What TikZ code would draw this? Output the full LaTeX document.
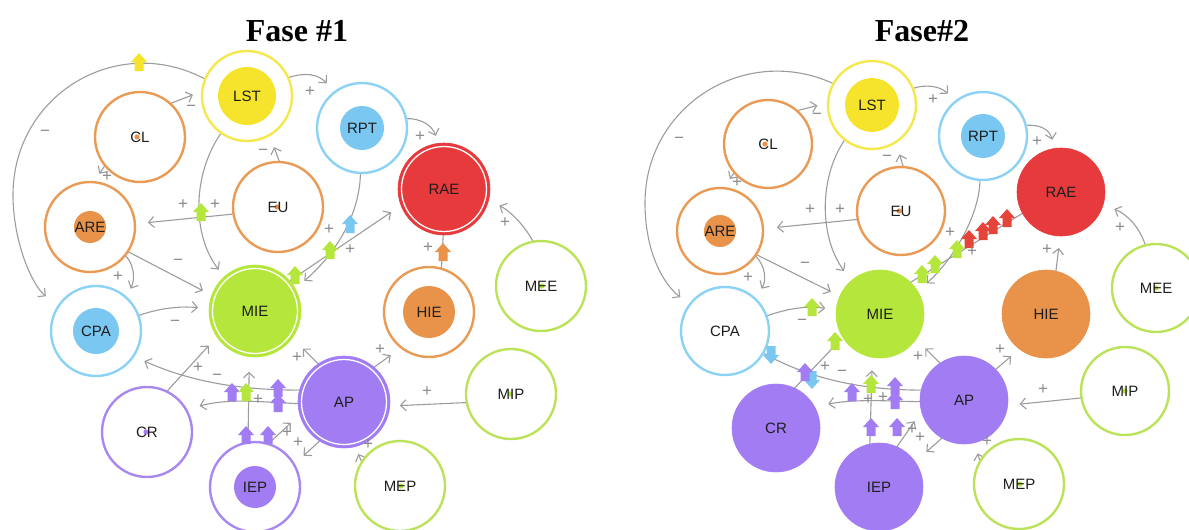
\documentclass[tikz,border=0pt]{standalone}
\usepackage{fontspec}
\setmainfont{Liberation Sans}
\newfontfamily\ttlfont{Liberation Serif}
\usetikzlibrary{arrows.meta}
\definecolor{cOr}{HTML}{E99A55}
\definecolor{fOr}{HTML}{E8924A}
\definecolor{cYe}{HTML}{F5E84E}
\definecolor{fYe}{HTML}{F6E42C}
\definecolor{cBl}{HTML}{8CD2F5}
\definecolor{fBl}{HTML}{7AC7F2}
\definecolor{fRe}{HTML}{E63A3D}
\definecolor{mRe}{HTML}{E5443A}
\definecolor{cGr}{HTML}{BBE35A}
\definecolor{fGr}{HTML}{B5E63B}
\definecolor{cPu}{HTML}{A888F0}
\definecolor{fPu}{HTML}{A17CF2}
\definecolor{lgray}{HTML}{9C9C9C}
\definecolor{sgray}{HTML}{8A8A8A}
\definecolor{txt}{HTML}{1E1E1E}
\newcommand\nlab{\fontsize{15}{15}\selectfont}
\newcommand\pmfont{\fontsize{17}{17}\selectfont}
\pgfdeclarelayer{bg}
\pgfsetlayers{bg,main}
\tikzset{
 nbase/.style={circle, inner sep=0pt, outer sep=0pt, minimum size=90pt, font=\nlab, text=txt},
 ring/.style={nbase, draw=#1, line width=2.4pt, fill=white},
 core/.style 2 args={path picture={\fill[#1] (path picture bounding box.center) circle (#2pt);}},
 dotin/.style 2 args={path picture={\fill[#1] ([xshift=#2pt]path picture bounding box.center) circle (2.6pt);}},
 disc/.style={nbase, fill=#1, draw=#1, line width=0.6pt},
 wring/.style={path picture={\draw[white, line width=1.3pt] (path picture bounding box.center) circle (42.5pt);}},
 conn/.style={draw=lgray, line width=1.1pt, -{Straight Barb[length=5.5pt,width=11pt,line width=1.1pt]}},
 lnk/.style={draw=lgray, line width=1.1pt},
 pm/.style={font=\pmfont, text=sgray, inner sep=0pt},
 ttl/.style={font=\ttlfont\bfseries\fontsize{32}{32}\selectfont, text=black, inner sep=0pt},
 mk/.pic={\fill[pic actions] (-4.5,9) -- (4.5,9) -- (4.5,0) -- (8,0) -- (0,-9) -- (-8,0) -- (-4.5,0) -- cycle;},
}
\begin{document}
\begin{tikzpicture}[x=1pt,y=-1pt]
\useasboundingbox (0,0) rectangle (1189,530);
% titles
\node[ttl] (t1) at (297,31) {Fase \#1};
\node[ttl] (t2) at (922,31) {Fase\#2};
% ---------- left nodes ----------
\node[ring=cYe, core={fYe}{29}] (aLST) at (247,96) {LST};
\node[ring=cOr, dotin={fOr}{-3}] (aCL) at (140,137) {CL};
\node[ring=cOr, core={fOr}{16}] (aARE) at (90,227) {ARE};
\node[ring=cOr, dotin={fOr}{-1}] (aEU) at (278,207) {EU};
\node[ring=cBl, core={fBl}{22}] (aRPT) at (362,128) {RPT};
\node[disc=fRe, wring, minimum size=92pt] (aRAE) at (444,189) {RAE};
\node[ring=cGr, dotin={fGr}{1}] (aMEE) at (541,286) {MEE};
\node[disc=fGr, wring, minimum size=92pt] (aMIE) at (255,311) {MIE};
\node[ring=cOr, core={fOr}{26}] (aHIE) at (429,312) {HIE};
\node[ring=cBl, core={fBl}{23}] (aCPA) at (96,331) {CPA};
\node[ring=cPu, dotin={fPu}{-1}] (aCR) at (147,432) {CR};
\node[disc=fPu, wring, minimum size=92pt] (aAP) at (344,402) {AP};
\node[ring=cPu, core={fPu}{21}] (aIEP) at (255,487) {IEP};
\node[ring=cGr, dotin={fGr}{-1}] (aMIP) at (511,394) {MIP};
\node[ring=cGr, dotin={fGr}{1}] (aMEP) at (400,486) {MEP};
% ---------- right nodes ----------
\node[ring=cYe, core={fYe}{27}, minimum size=88pt] (bLST) at (872,105) {LST};
\node[ring=cOr, dotin={fOr}{-3}, minimum size=88pt] (bCL) at (768,144) {CL};
\node[ring=cOr, core={fOr}{16}, minimum size=86pt] (bARE) at (720,231) {ARE};
\node[ring=cOr, dotin={fOr}{-2}, minimum size=88pt] (bEU) at (901,211) {EU};
\node[ring=cBl, core={fBl}{22}, minimum size=88pt] (bRPT) at (983,136) {RPT};
\node[disc=fRe, minimum size=88pt] (bRAE) at (1061,192) {RAE};
\node[ring=cGr, dotin={fGr}{0}, minimum size=88pt] (bMEE) at (1156,288) {MEE};
\node[disc=fGr, minimum size=88pt] (bMIE) at (880,314) {MIE};
\node[disc=fOr, minimum size=88pt] (bHIE) at (1046,314) {HIE};
\node[ring=cBl, minimum size=88pt] (bCPA) at (725,331) {CPA};
\node[disc=fPu, minimum size=88pt] (bCR) at (776,428) {CR};
\node[disc=fPu, minimum size=88pt] (bAP) at (964,400) {AP};
\node[disc=fPu, minimum size=88pt] (bIEP) at (879,487) {IEP};
\node[ring=cGr, dotin={fGr}{0}, minimum size=88pt] (bMIP) at (1125,391) {MIP};
\node[ring=cGr, dotin={fGr}{1}] (bMEP) at (1019,484) {MEP};
% ---------- connectors ----------
\begin{pgfonlayer}{bg}
% left
\draw[conn, shorten >=16pt] (aLST.158) .. controls (117,32) and (13,95) .. (13,195) .. controls (13,240) and (31,284) .. (aCPA.147);
\draw[conn, shorten >=10pt] (aCL.48) -- (aLST.174);
\draw[conn, shorten >=10pt] (aCL.219) -- (aARE.85);
\draw[conn, shorten >=9pt] (aLST.235) .. controls (192,175) and (192,235) .. (aMIE.132);
\draw[conn, shorten >=13pt] (aEU.189) -- (aARE.4);
\draw[conn, shorten >=13pt] (aEU.88) -- (aLST.300);
\draw[conn, shorten >=12pt] (aLST.24) .. controls (305,72) and (318,74) .. (aRPT.127);
\draw[conn, shorten >=8pt] (aRPT.12) .. controls (420,118) and (432,125) .. (aRAE.97);
\draw[conn, shorten >=12pt] (aRPT.268) .. controls (360,210) and (340,250) .. (aMIE.29);
\draw[conn, shorten >=12pt] (aMIE.41) -- (aRAE.201);
\draw[lnk] (aHIE.74) -- (aRAE.269);
\draw[conn, shorten >=12pt] (aMEE.100) .. controls (526,228) and (512,212) .. (aRAE.346);
\draw[conn, shorten >=10pt] (aARE.321) .. controls (133,262) and (136,278) .. (aCPA.48);
\draw[conn, shorten >=10pt] (aARE.327) -- (aMIE.160);
\draw[conn, shorten >=11pt] (aCPA.20) .. controls (160,308) and (180,306) .. (aMIE.177);
\draw[conn, shorten >=12pt] (aCR.64) -- (aMIE.214);
\draw[conn, shorten >=12pt] (aAP.165) .. controls (255,390) and (200,386) .. (aCPA.326);
\draw[conn, shorten >=14pt] (aAP.182) .. controls (260,402) and (230,398) .. (aCR.30);
\draw[conn, shorten >=15pt] (aIEP.99) -- (aMIE.263);
\draw[conn, shorten >=12pt] (aIEP.73) -- (aAP.196);
\draw[conn, shorten >=13pt] (aAP.238) -- (aIEP.30);
\draw[conn, shorten >=15pt] (aAP.124) -- (aMIE.324);
\draw[conn, shorten >=13pt] (aAP.49) -- (aHIE.232);
\draw[conn, shorten >=10pt] (aMIP.191) -- (aAP.355);
\draw[conn, shorten >=8pt] (aMEP.148) -- (aAP.284);
% right
\draw[conn, shorten >=12pt] (bLST.151) .. controls (745,43) and (645,106) .. (645,203) .. controls (645,250) and (662,283) .. (bCPA.143);
\draw[conn, shorten >=11pt] (bCL.49) -- (bLST.177);
\draw[conn, shorten >=11pt] (bCL.220) -- (bARE.85);
\draw[conn, shorten >=12pt] (bLST.232) .. controls (820,175) and (818,235) .. (bMIE.131);
\draw[conn, shorten >=14pt] (bEU.191) -- (bARE.3);
\draw[conn, shorten >=13pt] (bEU.87) -- (bLST.303);
\draw[conn, shorten >=11pt] (bLST.22) .. controls (925,84) and (940,86) .. (bRPT.128);
\draw[conn, shorten >=9pt] (bRPT.14) .. controls (1040,124) and (1050,130) .. (bRAE.99);
\draw[conn, shorten >=12pt] (bRPT.266) .. controls (980,210) and (958,255) .. (bMIE.31);
\draw[lnk] (bMIE.46) -- (bRAE.209);
\draw[conn, shorten >=12pt] (bHIE.77) -- (bRAE.269);
\draw[conn, shorten >=12pt] (bMEE.104) .. controls (1140,228) and (1128,215) .. (bRAE.344);
\draw[conn, shorten >=12pt] (bARE.325) .. controls (765,265) and (767,280) .. (bCPA.47);
\draw[conn, shorten >=10pt] (bARE.327) -- (bMIE.156);
\draw[conn, shorten >=11pt] (bCPA.20) .. controls (790,308) and (805,306) .. (bMIE.174);
\draw[lnk, shorten >=6pt] (bCR.65) -- (bMIE.212);
\draw[lnk] (bAP.167) .. controls (880,390) and (820,385) .. (bCPA.330);
\draw[conn, shorten >=14pt] (bAP.182) .. controls (900,402) and (860,398) .. (bCR.29);
\draw[conn, shorten >=13pt] (bIEP.102) -- (bMIE.260);
\draw[conn, shorten >=12pt] (bIEP.66) -- (bAP.195);
\draw[conn, shorten >=15pt] (bAP.240) -- (bIEP.35);
\draw[conn, shorten >=13pt] (bAP.123) -- (bMIE.325);
\draw[conn, shorten >=11pt] (bAP.44) -- (bHIE.233);
\draw[conn, shorten >=12pt] (bMIP.189) -- (bAP.353);
\draw[conn, shorten >=11pt] (bMEP.150) -- (bAP.284);
\end{pgfonlayer}
% ---------- markers left ----------
\pic[fill=fYe] at (139,62) {mk};
\pic[fill=fGr] at (201,212) {mk};
\pic[fill=fBl] at (350,224) {mk};
\pic[fill=fGr] at (330,250) {mk};
\pic[fill=fGr] at (295,275) {mk};
\pic[fill=fOr] at (443,252) {mk};
\pic[fill=fPu] at (232,392) {mk};
\pic[fill=fGr] at (246,392) {mk};
\pic[fill=fPu] at (278,388) {mk};
\pic[fill=fPu] at (278,403) {mk};
\pic[fill=fPu] at (246,435) {mk};
\pic[fill=fPu] at (268,435) {mk};
% ---------- markers right ----------
\pic[fill=fGr] at (812,307) {mk};
\pic[fill=fGr] at (835,341) {mk};
\pic[fill=fBl, rotate=180] at (812,380) {mk};
\pic[fill=fPu] at (805,372) {mk};
\pic[fill=fBl, rotate=180] at (771,355) {mk};
\pic[fill=fPu] at (852,392) {mk};
\pic[fill=fGr] at (871,384) {mk};
\pic[fill=fPu] at (895,386) {mk};
\pic[fill=fPu] at (895,400) {mk};
\pic[fill=fPu] at (871,427) {mk};
\pic[fill=fPu] at (897,427) {mk};
\pic[fill=fGr] at (922,274) {mk};
\pic[fill=fGr] at (935,264) {mk};
\pic[fill=fGr] at (957,249) {mk};
\pic[fill=mRe] at (969,239) {mk};
\pic[fill=mRe] at (983,231) {mk};
\pic[fill=mRe] at (993,225) {mk};
\pic[fill=mRe] at (1007,218) {mk};
% ---------- signs left ----------
\node[pm] (la1) at (45,133) {−};
\node[pm] (la2) at (191,108) {−};
\node[pm] (la3) at (107,177) {+};
\node[pm] (la4) at (183,205) {+};
\node[pm] (la5) at (215,205) {+};
\node[pm] (la6) at (263,152) {−};
\node[pm] (la7) at (310,92) {+};
\node[pm] (la8) at (420,137) {+};
\node[pm] (la9) at (329,230) {+};
\node[pm] (la10) at (350,250) {+};
\node[pm] (la11) at (428,248) {+};
\node[pm] (la12) at (505,223) {+};
\node[pm] (la13) at (118,277) {+};
\node[pm] (la14) at (178,262) {−};
\node[pm] (la15) at (175,323) {−};
\node[pm] (la16) at (198,368) {+};
\node[pm] (la17) at (217,377) {−};
\node[pm] (la18) at (258,400) {+};
\node[pm] (la19) at (287,433) {+};
\node[pm] (la20) at (298,443) {+};
\node[pm] (la21) at (297,358) {+};
\node[pm] (la22) at (380,350) {+};
\node[pm] (la23) at (427,392) {+};
\node[pm] (la24) at (368,445) {+};
% ---------- signs right ----------
\node[pm] (lb1) at (679,140) {−};
\node[pm] (lb2) at (817,116) {−};
\node[pm] (lb3) at (737,183) {+};
\node[pm] (lb4) at (810,210) {+};
\node[pm] (lb5) at (840,210) {+};
\node[pm] (lb6) at (887,158) {−};
\node[pm] (lb7) at (933,100) {+};
\node[pm] (lb8) at (1037,142) {+};
\node[pm] (lb9) at (950,233) {+};
\node[pm] (lb10) at (972,252) {+};
\node[pm] (lb11) at (1047,250) {+};
\node[pm] (lb12) at (1120,228) {+};
\node[pm] (lb13) at (748,278) {+};
\node[pm] (lb14) at (805,265) {−};
\node[pm] (lb15) at (802,322) {−};
\node[pm] (lb16) at (825,367) {+};
\node[pm] (lb17) at (842,373) {−};
\node[pm] (lb18) at (868,400) {+};
\node[pm] (lb19) at (883,398) {+};
\node[pm] (lb20) at (912,430) {+};
\node[pm] (lb21) at (920,438) {+};
\node[pm] (lb22) at (918,357) {+};
\node[pm] (lb23) at (1000,350) {+};
\node[pm] (lb24) at (1043,390) {+};
\node[pm] (lb25) at (987,442) {+};
\end{tikzpicture}
\end{document}
